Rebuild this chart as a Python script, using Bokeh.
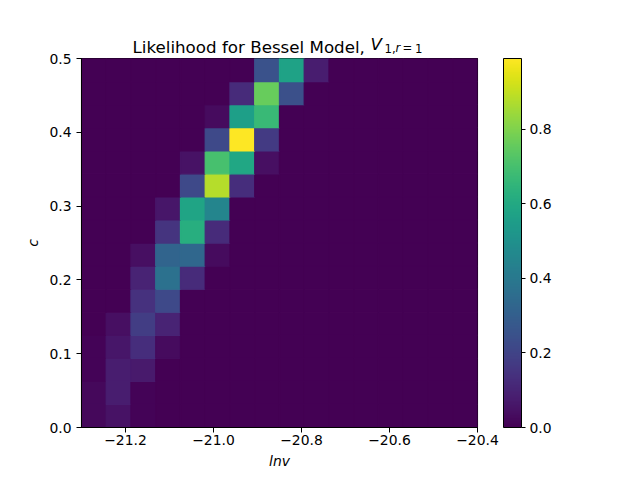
import numpy as np
from bokeh.plotting import figure
from bokeh.models import (LinearColorMapper, ColorBar, FixedTicker, Label,
                          CustomJSTickFormatter, PrintfTickFormatter, ColumnDataSource)
from bokeh.palettes import Viridis256
from bokeh.transform import linear_cmap
from bokeh.embed import file_html
from bokeh.resources import INLINE

# grid edges
x_min, x_max, n_x = -21.3, -20.4, 16
y_min, y_max, n_y = 0.0, 0.5, 16

x_ticks = [-21.2, -21.0, -20.8, -20.6, -20.4]
y_ticks = [0.0, 0.1, 0.2, 0.3, 0.4, 0.5]
cbar_ticks = [0.0, 0.2, 0.4, 0.6, 0.8]

# likelihood values, rows from bottom (c=0) to top (c=0.5), 16 columns in lnv
row00 = [0.02, 0.05, 0.01, 0, 0, 0, 0, 0, 0, 0, 0, 0, 0, 0, 0, 0]
row01 = [0.02, 0.08, 0.01, 0, 0, 0, 0, 0, 0, 0, 0, 0, 0, 0, 0, 0]
row02 = [0.01, 0.08, 0.07, 0, 0, 0, 0, 0, 0, 0, 0, 0, 0, 0, 0, 0]
row03 = [0.01, 0.06, 0.13, 0.03, 0, 0, 0, 0, 0, 0, 0, 0, 0, 0, 0, 0]
row04 = [0.00, 0.04, 0.18, 0.10, 0, 0, 0, 0, 0, 0, 0, 0, 0, 0, 0, 0]
row05 = [0, 0, 0.14, 0.22, 0, 0, 0, 0, 0, 0, 0, 0, 0, 0, 0, 0]
row06 = [0, 0, 0.10, 0.37, 0.12, 0, 0, 0, 0, 0, 0, 0, 0, 0, 0, 0]
row07 = [0, 0, 0.04, 0.32, 0.33, 0.03, 0, 0, 0, 0, 0, 0, 0, 0, 0, 0]
row08 = [0, 0, 0, 0.15, 0.62, 0.12, 0, 0, 0, 0, 0, 0, 0, 0, 0, 0]
row09 = [0, 0, 0, 0.06, 0.58, 0.45, 0, 0, 0, 0, 0, 0, 0, 0, 0, 0]
row10 = [0, 0, 0, 0, 0.22, 0.88, 0.13, 0, 0, 0, 0, 0, 0, 0, 0, 0]
row11 = [0, 0, 0, 0, 0.05, 0.70, 0.59, 0.04, 0, 0, 0, 0, 0, 0, 0, 0]
row12 = [0, 0, 0, 0, 0, 0.22, 0.99, 0.17, 0, 0, 0, 0, 0, 0, 0, 0]
row13 = [0, 0, 0, 0, 0, 0.03, 0.56, 0.67, 0, 0, 0, 0, 0, 0, 0, 0]
row14 = [0, 0, 0, 0, 0, 0, 0.12, 0.76, 0.24, 0, 0, 0, 0, 0, 0, 0]
row15 = [0, 0, 0, 0, 0, 0, 0, 0.25, 0.57, 0.08, 0, 0, 0, 0, 0, 0]

rows = [row00, row01, row02, row03, row04, row05, row06, row07,
        row08, row09, row10, row11, row12, row13, row14, row15]

x_edges = np.linspace(x_min, x_max, n_x + 1)
y_edges = np.linspace(y_min, y_max, n_y + 1)

left, right, bottom, top, val = [], [], [], [], []
for j, r in enumerate(rows):
    for i, v in enumerate(r):
        left.append(x_edges[i]); right.append(x_edges[i + 1])
        bottom.append(y_edges[j]); top.append(y_edges[j + 1])
        val.append(v)
src = ColumnDataSource(dict(left=left, right=right, bottom=bottom, top=top, val=val))

vmax = max(val)
mapper = LinearColorMapper(palette=Viridis256, low=0.0, high=vmax)

p = figure(output_backend="svg", toolbar_location=None,
           frame_width=396, frame_height=369,
           x_range=(x_min, x_max), y_range=(y_min, y_max),
           min_border_left=81, min_border_top=58, min_border_bottom=45,
           min_border_right=10)
p.background_fill_color = "white"
p.border_fill_color = "white"
p.grid.visible = False
p.outline_line_color = "black"
p.outline_line_width = 1.1

cm = linear_cmap("val", Viridis256, 0.0, vmax)
p.quad(left="left", right="right", bottom="bottom", top="top", source=src,
       fill_color=cm, line_color=cm, line_width=1.3)

for ax in (p.xaxis, p.yaxis):
    ax.axis_line_color = "black"
    ax.major_tick_line_color = "black"
    ax.major_tick_out = 5
    ax.major_tick_in = 0
    ax.minor_tick_line_color = None
    ax.major_label_text_font = "DejaVu Sans"
    ax.major_label_text_font_size = "13.9px"
    ax.major_label_text_color = "black"
    ax.axis_label_text_font = "DejaVu Sans"
    ax.axis_label_text_font_size = "13.9px"
    ax.axis_label_text_font_style = "italic"
    ax.axis_label_text_color = "black"

p.xaxis.major_label_standoff = 2
p.yaxis.major_label_standoff = 5
p.xaxis.ticker = FixedTicker(ticks=x_ticks)
p.yaxis.ticker = FixedTicker(ticks=y_ticks)
p.xaxis.formatter = CustomJSTickFormatter(code="return tick.toFixed(1).replace('-', '\u2212');")
p.yaxis.formatter = PrintfTickFormatter(format="%.1f")
p.xaxis.axis_label = "lnv"
p.yaxis.axis_label = "c"

cbar = ColorBar(color_mapper=mapper, width=18, height=369,
                ticker=FixedTicker(ticks=cbar_ticks),
                formatter=PrintfTickFormatter(format="%.1f"),
                major_label_text_font="DejaVu Sans",
                major_label_text_font_size="13.9px",
                major_label_text_color="black",
                major_tick_line_color="black", major_tick_out=4, major_tick_in=0,
                minor_tick_line_color=None,
                bar_line_color="black", bar_line_width=1,
                label_standoff=4,
                padding=0, margin=0, location=(26, 0),
                background_fill_color=None, border_line_color=None)
p.add_layout(cbar, "right")

# title: main text as plot title, math part as labels
p.title.text = "Likelihood for Bessel Model,"
p.title.align = "left"
p.title.offset = 51
p.title.standoff = 3
p.title.text_font = "DejaVu Sans"
p.title.text_font_size = "16.7px"
p.title.text_font_style = "normal"
p.title.text_color = "black"

# math part of the title (V_{1,r=1}), placed in canvas pixels
font = "DejaVu Sans"
p.add_layout(Label(x=370, y=43, x_units="canvas", y_units="canvas",
                   text="V", text_font_style="italic",
                   text_align="left", text_baseline="alphabetic",
                   text_font=font, text_font_size="16.7px", text_color="black"), "right")
sub = [(384, "1,", "normal"), (395, "r", "italic"), (402, "=", "normal"), (414.5, "1", "normal")]
for xp, t, st in sub:
    p.add_layout(Label(x=xp, y=47.5, x_units="canvas", y_units="canvas",
                       text=t, text_font_style=st,
                       text_align="left", text_baseline="alphabetic",
                       text_font=font, text_font_size="11.7px", text_color="black"), "right")

open("out.html", "w").write(file_html(p, INLINE))
